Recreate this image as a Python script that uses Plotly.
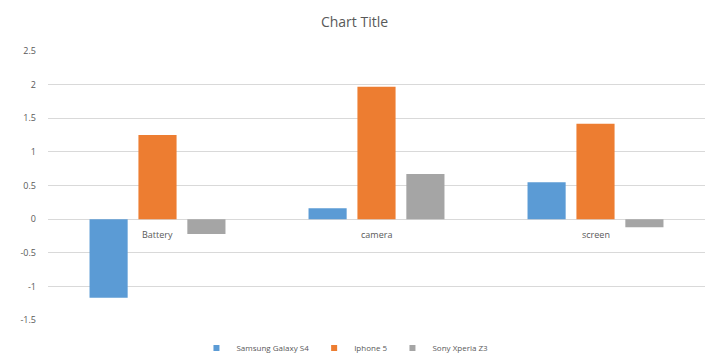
import plotly.graph_objects as go

categories = ["Battery", "camera", "screen"]
series_names = ["Samsung Galaxy S4", "Iphone 5", "Sony Xperia Z3"]
samsung = [-1.17, 0.16, 0.55]
iphone = [1.25, 1.97, 1.42]
sony = [-0.22, 0.67, -0.12]
colors = ["#5B9BD5", "#ED7D31", "#A5A5A5"]
ytick_vals = [-1.5, -1, -0.5, 0, 0.5, 1, 1.5, 2, 2.5]
ytick_text = ["-1.5", "-1", "-0.5", "0", "0.5", "1", "1.5", "2", "2.5"]

FONT = "Open Sans, Liberation Sans, sans-serif"

fig = go.Figure()
for name, vals, c in zip(series_names, [samsung, iphone, sony], colors):
    fig.add_trace(go.Bar(x=categories, y=vals, name=name, showlegend=False,
                         marker=dict(color=c, line=dict(width=0))))
# compact legend entries (small square swatches like the original)
for name, c in zip(series_names, colors):
    fig.add_trace(go.Scatter(x=[None], y=[None], mode="markers", name=name,
                             marker=dict(symbol="square", size=6, color=c)))

for cat in categories:
    fig.add_annotation(x=cat, y=0, text=cat, showarrow=False, yanchor="top", yshift=-7,
                       font=dict(family=FONT, size=9, color="#595959"))

fig.update_layout(
    width=709, height=358,
    margin=dict(l=48, r=4, t=51, b=38, autoexpand=False),
    paper_bgcolor="white", plot_bgcolor="white",
    barmode="group", bargap=0.33, bargroupgap=0.22,
    title=dict(text="Chart Title", x=0.5, xanchor="center", y=1 - 22 / 358, yanchor="middle",
               font=dict(family=FONT, size=14, color="#595959")),
    xaxis=dict(showticklabels=False, showgrid=False, zeroline=False, showline=False, ticks="",
               range=[-0.5, 2.5]),
    yaxis=dict(range=[-1.5, 2.5], tickvals=ytick_vals, ticktext=ytick_text, showgrid=True,
               gridcolor="#D9D9D9", gridwidth=1, zeroline=True, zerolinecolor="#D9D9D9", zerolinewidth=1,
               showline=False, ticks="", ticklabelstandoff=11,
               tickfont=dict(family=FONT, size=9, color="#595959")),
    legend=dict(orientation="h", x=0.452, xanchor="center", y=-0.104, yanchor="middle",
                font=dict(family=FONT, size=8, color="#595959"),
                itemwidth=30, tracegroupgap=0),
    showlegend=True,
)

fig.write_html("out.html")
